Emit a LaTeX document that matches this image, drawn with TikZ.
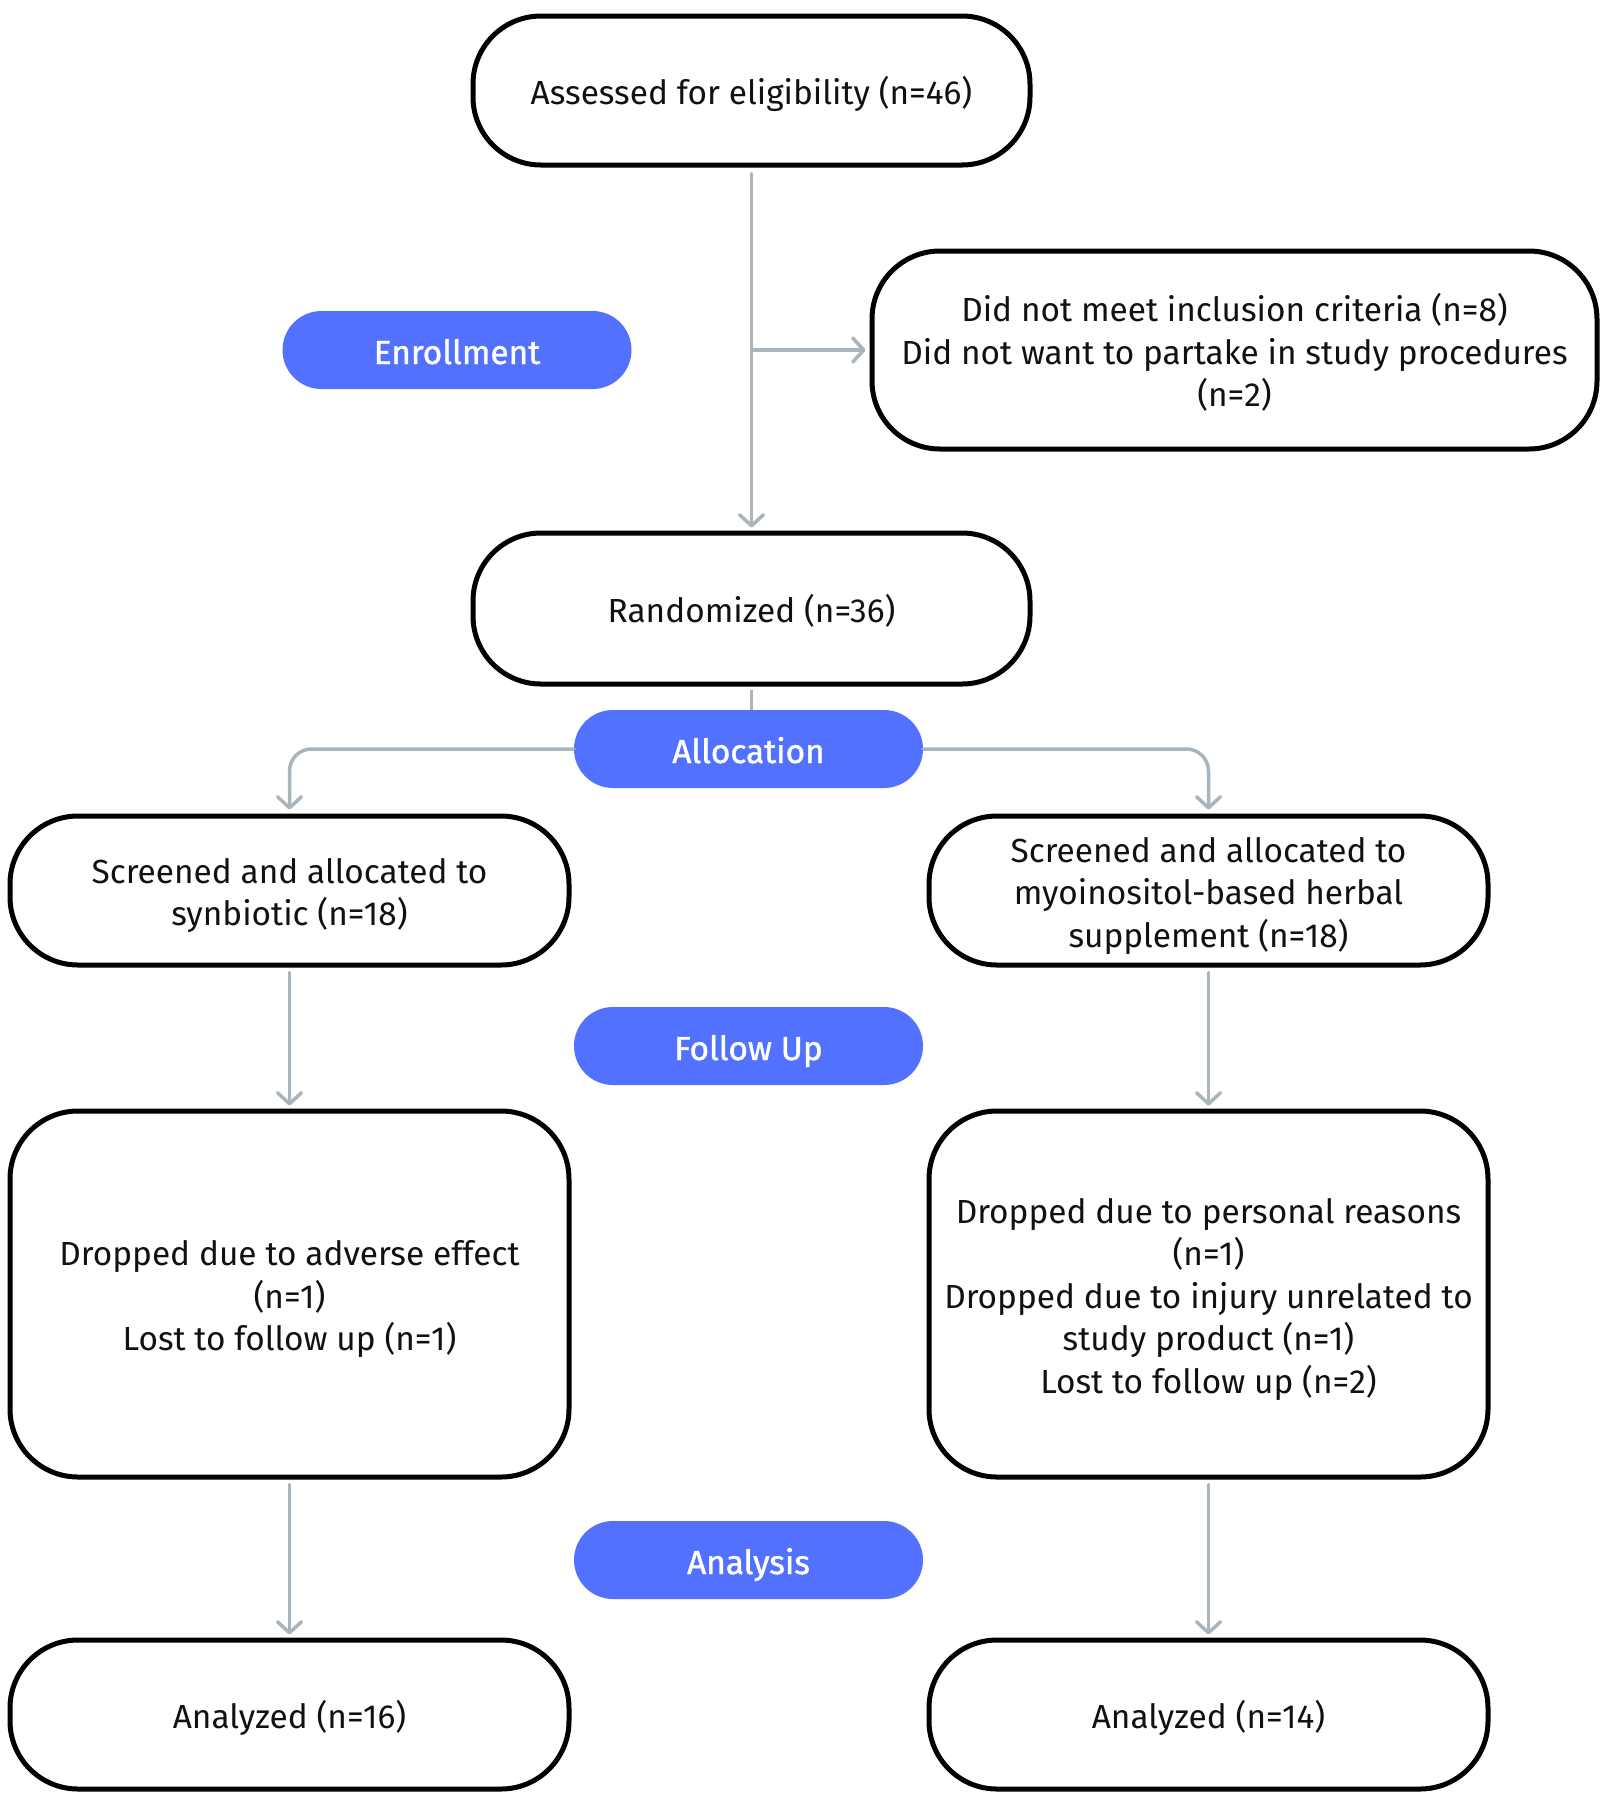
\documentclass[tikz,border=0pt]{standalone}
\usepackage{fontspec}
\setmainfont{Fira Sans}
\newfontfamily\pillfont{Fira Sans}[FakeBold=1.2]
\usetikzlibrary{arrows.meta,positioning}
\definecolor{linegray}{HTML}{A9B4BD}
\definecolor{pillblue}{HTML}{5271FF}
\definecolor{textblack}{HTML}{111111}
\newcommand\bt[1]{\raisebox{-5.5pt}[\height][\depth]{\begin{tabular}{@{}c@{}}#1\end{tabular}}}
\tikzset{
  box/.style={draw=black, line width=5pt, fill=white, rounded corners=68pt,
    text=textblack, inner sep=0pt,
    font=\fontsize{33.4}{42.5}\selectfont},
  pill/.style={fill=pillblue, draw=none, rounded corners=39pt, text=white,
    inner sep=0pt, minimum width=349pt, minimum height=78pt,
    font=\pillfont\fontsize{33.4}{42.5}\selectfont},
  conn/.style={draw=linegray, line width=3.5pt, line cap=round},
  arr/.style={conn, -{Straight Barb[length=11pt,width=24pt,round]}},
}
\begin{document}
\begin{tikzpicture}[x=1pt,y=-1pt]
\useasboundingbox[fill=white] (0,0) rectangle (1606,1800);

\node[box, minimum width=557pt, minimum height=149pt] (assess) at (751.5,90.5) {\bt{Assessed for eligibility (n=46)}};
\node[box, minimum width=725pt, minimum height=198pt] (excl) at (1234.5,350) {\bt{Did not meet inclusion criteria (n=8)\\Did not want to partake in study procedures\\(n=2)}};
\node[pill] (enroll) at (457,350) {\bt{Enrollment}};
\node[box, minimum width=557pt, minimum height=151pt] (rand) at (751.5,608.5) {\bt{Randomized (n=36)}};
\node[pill] (alloc) at (748.5,749) {\bt{Allocation}};
\node[box, minimum width=559pt, minimum height=149pt] (scrL) at (289.5,890.5) {\bt{Screened and allocated to\\synbiotic (n=18)}};
\node[box, minimum width=559pt, minimum height=149pt] (scrR) at (1208.5,890.5) {\bt{Screened and allocated to\\myoinositol-based herbal\\supplement (n=18)}};
\node[pill] (follow) at (748.5,1046) {\bt{Follow Up}};
\node[box, minimum width=559pt, minimum height=366pt] (dropL) at (289.5,1294) {\bt{Dropped due to adverse effect\\(n=1)\\Lost to follow up (n=1)}};
\node[box, minimum width=559pt, minimum height=366pt] (dropR) at (1208.5,1294) {\bt{Dropped due to personal reasons\\(n=1)\\Dropped due to injury unrelated to\\study product (n=1)\\Lost to follow up (n=2)}};
\node[pill] (analysis) at (748.5,1560) {\bt{Analysis}};
\node[box, minimum width=559pt, minimum height=149pt] (anL) at (289.5,1714.5) {\bt{Analyzed (n=16)}};
\node[box, minimum width=559pt, minimum height=149pt] (anR) at (1208.5,1714.5) {\bt{Analyzed (n=14)}};

\coordinate (br) at (assess.south |- excl.west);
\draw[arr, shorten <=6pt, shorten >=3pt] (assess.south) -- (rand.north);
\draw[arr, shorten >=4pt] (br) -- (excl.west);
\draw[conn, line cap=butt, shorten <=3pt] (rand.south) -- (rand.south |- alloc.north);
\draw[arr, rounded corners=22pt, shorten >=4pt] (alloc.west) -| (scrL.north);
\draw[arr, rounded corners=22pt, shorten >=4pt] (alloc.east) -| (scrR.north);
\draw[arr, shorten <=5pt, shorten >=3pt] (scrL.south) -- (dropL.north);
\draw[arr, shorten <=5pt, shorten >=3pt] (scrR.south) -- (dropR.north);
\draw[arr, shorten <=5pt, shorten >=3pt] (dropL.south) -- (anL.north);
\draw[arr, shorten <=5pt, shorten >=3pt] (dropR.south) -- (anR.north);
\end{tikzpicture}
\end{document}
